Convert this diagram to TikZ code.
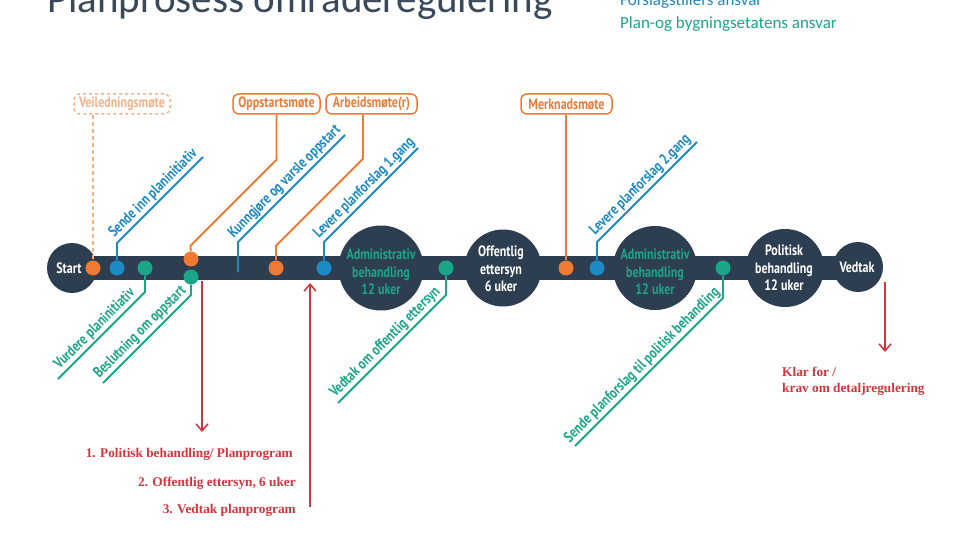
\documentclass[tikz,border=0pt]{standalone}
\usepackage{fontspec}
\setmainfont{Carlito}
\newfontfamily\lblfont[FakeStretch=0.8]{PT Sans}
\newfontfamily\redfont{Liberation Serif}
\usetikzlibrary{arrows.meta}
\definecolor{barc}{HTML}{2D3E50}
\definecolor{org}{HTML}{EE7A33}
\definecolor{lorg}{HTML}{F3B28A}
\definecolor{blu}{HTML}{1C8AC4}
\definecolor{grn}{HTML}{1BA68A}
\definecolor{redc}{HTML}{D5343C}
\definecolor{ttl}{HTML}{3A4959}
\begin{document}
\begin{tikzpicture}[x=1pt,y=-1pt,
  dot/.style={circle, inner sep=0pt, minimum size=15pt},
  bigc/.style={circle, fill=barc, inner sep=0pt},
  circtxt/.style={inner sep=0pt, text=white, align=center,
    font=\lblfont\bfseries\fontsize{15}{17.5}\selectfont},
  mtgbox/.style={draw=org, line width=1.5pt, rounded corners=6pt, minimum height=20pt,
    inner xsep=3pt, inner ysep=0pt, text=org, fill=white,
    font=\lblfont\bfseries\fontsize{15}{17}\selectfont},
  conn/.style={line width=1.8pt},
  lbl/.style={font=\lblfont\bfseries\fontsize{15.3}{17}\selectfont, inner sep=1.5pt,
    rotate=45, anchor=south, midway},
  redarrow/.style={draw=redc, line width=1.5pt, -{Straight Barb[length=7pt,width=12pt]}},
  redtxt/.style={text=redc, inner sep=0pt, font=\redfont\bfseries\fontsize{13.3}{15}\selectfont}
]
\useasboundingbox (0,0) rectangle (960,540);
\fill[white] (0,0) rectangle (960,540);

% title and legend
\node[anchor=base west, inner sep=0pt, text=ttl, font=\fontsize{41}{41}\selectfont] (title) at (47,13) {Planprosess områderegulering};
\node[anchor=base west, inner sep=0pt, text=blu, font=\fontsize{17}{17}\selectfont] (leg1) at (620,6) {Forslagstillers ansvar};
\node[anchor=base west, inner sep=0pt, text=grn, font=\fontsize{17}{17}\selectfont] (leg2) at (620,29) {Plan-og bygningsetatens ansvar};

% bar
\fill[barc] (72,256) rectangle (858,280);

% big circles
\node[bigc, minimum size=50pt] (start) at (72,268) {};
\node[circtxt] (startt) at (69,268) {Start};
\node[bigc, minimum size=85pt] (adm1) at (381,268) {};
\node[circtxt, text=grn] (adm1t) at (381,272) {Administrativ\\behandling\\12 uker};
\node[bigc, minimum size=77pt] (off) at (503,268) {};
\node[circtxt] (offt) at (501,269) {Offentlig\\ettersyn\\6 uker};
\node[bigc, minimum size=84pt] (adm2) at (655,268) {};
\node[circtxt, text=grn] (adm2t) at (655,272) {Administrativ\\behandling\\12 uker};
\node[bigc, minimum size=78pt] (pol) at (785,268) {};
\node[circtxt] (polt) at (784,268) {Politisk\\behandling\\12 uker};
\node[bigc, minimum size=50pt] (vedtak) at (858,267) {};
\node[circtxt] (vedtakt) at (857,267) {Vedtak};

% dots
\node[dot, fill=org] (dV) at (93,268) {};
\node[dot, fill=blu] (dB1) at (117,268) {};
\node[dot, fill=grn] (dG1) at (145,268) {};
\node[dot, fill=org] (dO2) at (191,259) {};
\node[dot, fill=grn] (dG2) at (191,277) {};
\coordinate (kun) at (238,272);
\node[dot, fill=org] (dO3) at (276,268) {};
\node[dot, fill=blu] (dB2) at (324,268) {};
\node[dot, fill=grn] (dG3) at (446,268) {};
\node[dot, fill=org] (dM) at (566,268) {};
\node[dot, fill=blu] (dB3) at (597,268) {};
\node[dot, fill=grn] (dG4) at (723,268) {};

% meeting boxes
\node[mtgbox, draw=lorg, text=lorg, dashed, minimum width=96pt] (veil) at (122,104) {Veiledningsmøte};
\node[mtgbox, minimum width=87pt] (opp) at (276.5,104) {Oppstartsmøte};
\node[mtgbox, minimum width=91pt] (arb) at (371.5,104) {Arbeidsmøte(r)};
\node[mtgbox, minimum width=91pt] (merk) at (566.5,104) {Merknadsmøte};

% orange connectors
\draw[line width=1.6pt, lorg, dash pattern=on 4pt off 3pt] (veil.south -| dV) -- (dV);
\draw[conn, org] (opp.south) -- ++(0,45) -- ++(-86,86) -- (dO2);
\draw[conn, org] ([xshift=-8.5pt]arb.south) -- ++(0,44) -- ++(-87,87) -- (dO3);
\draw[conn, org] (merk.south -| dM) -- (dM);

% blue connectors and labels
\draw[conn, blu] (dB1) -- ++(0,-25) -- ++(86,-86) node[lbl, text=blu] (lb1) {Sende inn planinitiativ};
\draw[conn, blu] (kun) -- ++(0,-30) -- ++(107,-107) node[lbl, text=blu] (lb2) {Kunngjøre og varsle oppstart};
\draw[conn, blu] (dB2) -- ++(0,-26) -- ++(94,-94) node[lbl, text=blu] (lb3) {Levere planforslag 1.gang};
\draw[conn, blu] (dB3) -- ++(0,-26) -- ++(100,-100) node[lbl, text=blu] (lb4) {Levere planforslag 2.gang};

% green connectors and labels
\draw[conn, grn] (dG1) -- ++(0,24) -- ++(-87,87) node[lbl, text=grn] (lg1) {Vurdere planinitiativ};
\draw[conn, grn] (dG2) -- ++(0,18) -- ++(-88,88) node[lbl, text=grn] (lg2) {Beslutning om oppstart};
\draw[conn, grn] (dG3) -- ++(0,27) -- ++(-108,108) node[lbl, text=grn] (lg3) {Vedtak om offentlig ettersyn};
\draw[conn, grn] (dG4) -- ++(0,30) -- ++(-148,148) node[lbl, text=grn] (lg4) {Sende planforslag til politisk behandling};

% red arrows
\coordinate (r1a) at (202,281);
\coordinate (r1b) at (202,432);
\coordinate (r2a) at (310,507);
\coordinate (r2b) at (310,283);
\coordinate (r3a) at (885,282);
\coordinate (r3b) at (885,352);
\draw[redarrow] (r1a) -- (r1b);
\draw[redarrow] (r2a) -- (r2b);
\draw[redarrow] (r3a) -- (r3b);

% red texts
\node[redtxt, anchor=east] (t1) at (293,454) {1. Politisk behandling/ Planprogram};
\node[redtxt, anchor=east] (t2) at (296,483) {2. Offentlig ettersyn, 6 uker};
\node[redtxt, anchor=east] (t3) at (296,510) {3. Vedtak planprogram};
\node[redtxt, anchor=west] (t4) at (782,372) {Klar for /};
\node[redtxt, anchor=west] (t5) at (782,389) {krav om detaljregulering};
\end{tikzpicture}
\end{document}
